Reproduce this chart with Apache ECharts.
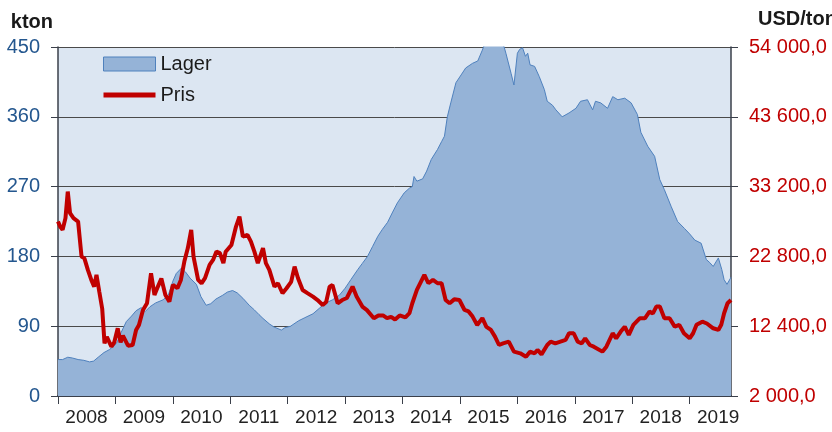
<!DOCTYPE html>
<html>
<head>
<meta charset="utf-8">
<script src="https://cdn.jsdelivr.net/npm/echarts@6/dist/echarts.min.js"></script>
<style>
  html, body { margin: 0; padding: 0; background: #fff; }
  #chart { width: 832px; height: 432px; }
</style>
</head>
<body>
<div id="chart"></div>
<script>
// LME lager (kton) – decimal year / value
const lagerYears = [
  2008.00, 2008.08, 2008.17, 2008.25, 2008.35, 2008.45, 2008.55, 2008.62, 2008.70, 2008.80,
  2008.90, 2009.02, 2009.10, 2009.19, 2009.28, 2009.36, 2009.45, 2009.52, 2009.60, 2009.70,
  2009.83, 2009.92, 2010.00, 2010.06, 2010.15, 2010.22, 2010.30, 2010.41, 2010.49, 2010.58,
  2010.66, 2010.75, 2010.87, 2010.95, 2011.04, 2011.12, 2011.22, 2011.33, 2011.42, 2011.50,
  2011.57, 2011.68, 2011.76, 2011.89, 2011.95, 2012.05, 2012.19, 2012.30, 2012.44, 2012.55,
  2012.64, 2012.78, 2012.90, 2013.00, 2013.10, 2013.22, 2013.30, 2013.39, 2013.48, 2013.57,
  2013.65, 2013.74, 2013.82, 2013.91, 2014.03, 2014.12, 2014.17, 2014.20, 2014.25, 2014.35,
  2014.42, 2014.50, 2014.61, 2014.68, 2014.73, 2014.78, 2014.84, 2014.93, 2015.02, 2015.10,
  2015.22, 2015.31, 2015.39, 2015.45, 2015.55, 2015.65, 2015.75, 2015.80, 2015.89, 2015.94,
  2016.00, 2016.04, 2016.09, 2016.14, 2016.18, 2016.22, 2016.30, 2016.38, 2016.47, 2016.52,
  2016.61, 2016.67, 2016.78, 2016.90, 2017.02, 2017.10, 2017.22, 2017.31, 2017.36, 2017.45,
  2017.57, 2017.66, 2017.75, 2017.87, 2017.98, 2018.09, 2018.15, 2018.27, 2018.39, 2018.48,
  2018.56, 2018.68, 2018.79, 2018.91, 2019.00, 2019.09, 2019.20, 2019.29, 2019.35, 2019.41,
  2019.50, 2019.56, 2019.60, 2019.65, 2019.72
];
const lagerValues = [
  47, 47, 50, 49, 47, 46, 44, 45, 50, 56,
  60, 68, 82, 96, 103, 110, 114, 109, 115, 120,
  124, 130, 148, 158, 165, 160, 152, 144, 128, 117,
  119, 125, 130, 134, 136, 133, 126, 117, 111, 105,
  100, 93, 89, 85, 88, 90, 97, 101, 106, 113,
  119, 124, 130, 139, 150, 163, 171, 180, 193, 206,
  215, 224, 236, 249, 262, 268, 270, 283, 277, 280,
  290, 305, 318, 328, 335, 360, 378, 404, 414, 423,
  429, 432, 446, 458, 468, 466, 455, 442, 416, 401,
  442, 447, 449, 438, 442, 427, 425, 412, 395, 380,
  375, 369, 360, 365, 371, 380, 382, 369, 380, 378,
  371, 386, 382, 384, 378, 363, 340, 322, 309, 279,
  266, 244, 225, 216, 209, 201, 197, 176, 172, 167,
  178, 163, 150, 144, 153
];

// Pris (USD/ton)
const prisYears = [
  2008.00, 2008.04, 2008.08, 2008.13, 2008.17, 2008.21, 2008.27, 2008.35, 2008.41, 2008.46,
  2008.52, 2008.58, 2008.63, 2008.67, 2008.72, 2008.77, 2008.81, 2008.85, 2008.93, 2008.98,
  2009.04, 2009.09, 2009.13, 2009.22, 2009.30, 2009.36, 2009.41, 2009.48, 2009.55, 2009.62,
  2009.68, 2009.74, 2009.80, 2009.87, 2009.94, 2010.00, 2010.08, 2010.14, 2010.20, 2010.26,
  2010.32, 2010.36, 2010.44, 2010.50, 2010.56, 2010.64, 2010.70, 2010.76, 2010.82, 2010.88,
  2010.92, 2011.02, 2011.10, 2011.16, 2011.22, 2011.30, 2011.36, 2011.42, 2011.48, 2011.57,
  2011.62, 2011.68, 2011.77, 2011.83, 2011.91, 2011.98, 2012.06, 2012.12, 2012.18, 2012.26,
  2012.35, 2012.44, 2012.52, 2012.61, 2012.67, 2012.73, 2012.78, 2012.87, 2012.95, 2013.03,
  2013.13, 2013.20, 2013.30, 2013.38, 2013.50, 2013.58, 2013.66, 2013.73, 2013.80, 2013.87,
  2013.95, 2014.05, 2014.12, 2014.17, 2014.25, 2014.38, 2014.45, 2014.53, 2014.61, 2014.68,
  2014.75, 2014.82, 2014.90, 2014.99, 2015.08, 2015.15, 2015.22, 2015.30, 2015.39, 2015.46,
  2015.54, 2015.61, 2015.68, 2015.75, 2015.85, 2015.94, 2016.05, 2016.15, 2016.22, 2016.30,
  2016.35, 2016.42, 2016.52, 2016.58, 2016.66, 2016.75, 2016.84, 2016.90, 2016.98, 2017.05,
  2017.12, 2017.18, 2017.26, 2017.33, 2017.48, 2017.55, 2017.66, 2017.72, 2017.80, 2017.87,
  2017.94, 2018.02, 2018.13, 2018.22, 2018.30, 2018.36, 2018.42, 2018.48, 2018.56, 2018.65,
  2018.74, 2018.82, 2018.90, 2019.00, 2019.06, 2019.12, 2019.22, 2019.30, 2019.41, 2019.50,
  2019.55, 2019.60, 2019.66, 2019.72
];
const prisValues = [
  27990, 27200, 26750, 28500, 32460, 29240, 28500, 27990, 22770, 22500,
  20790, 19300, 18300, 20040, 17500, 15000, 9860, 10800, 9350, 10000,
  12090, 10000, 11000, 9500, 9600, 11840, 12590, 14820, 15820, 20290,
  17060, 18300, 19500, 17060, 16060, 18550, 18060, 19300, 22030, 24000,
  26750, 22780, 19300, 18800, 19550, 21530, 22280, 23520, 23300, 21790,
  23500, 24510, 27240, 28730, 25750, 26000, 25000, 23520, 21790, 24020,
  21790, 20790, 18300, 18800, 17310, 18060, 19000, 21280, 19550, 17800,
  17300, 16810, 16300, 15570, 16000, 18300, 18550, 15820, 16300, 16600,
  18300, 16810, 15320, 14800, 13580, 14000, 14000, 13600, 13800, 13400,
  14000, 13700, 14330, 15820, 17800, 20040, 18800, 19300, 18800, 18800,
  16310, 15820, 16400, 16310, 14820, 14600, 13830, 12590, 13600, 12300,
  11840, 10850, 9600, 9850, 10100, 8610, 8360, 7860, 8610, 8360,
  8860, 8200, 9600, 10100, 9850, 10100, 10350, 11350, 11350, 10100,
  9850, 10600, 9600, 9350, 8610, 9350, 11350, 10600, 11600, 12330,
  11100, 12600, 13580, 13580, 14570, 14300, 15320, 15320, 13580, 13580,
  12330, 12600, 11350, 10600, 11350, 12600, 13080, 12800, 12090, 11850,
  12600, 14330, 15820, 16310
];

const xMin = 2008;
const xMax = 2019.72;
const prisMin = 2000;
const prisMax = 54000;

const font = 'Liberation Sans, Arial, sans-serif';

function fmtPris(v) {
  const s = v.toFixed(1).split('.');
  return s[0].replace(/\B(?=(\d{3})+(?!\d))/g, ' ') + ',' + s[1];
}

const chart = echarts.init(document.getElementById('chart'));

const option = {
  animation: false,
  textStyle: { fontFamily: font },
  grid: {
    left: 58, right: 101, top: 47, bottom: 36,
    outerBoundsMode: 'none',
    show: true, backgroundColor: '#dce6f2', borderWidth: 0
  },
  legend: {
    orient: 'vertical',
    left: 59, top: 48,
    padding: [6, 50, 8, 44],
    backgroundColor: '#dce6f2',
    itemWidth: 52, itemHeight: 14, itemGap: 11,
    symbolKeepAspect: true,
    textStyle: { fontSize: 20, color: '#1a1a1a', lineHeight: 20 },
    data: [
      { name: 'Lager', icon: 'rect', itemStyle: { color: '#95b3d7', borderColor: '#4f81bd', borderWidth: 1 } },
      // thick red bar, no marker
      { name: 'Pris', icon: 'path://M0,0H52V5H0Z', itemStyle: { color: '#c00000', borderWidth: 0 } }
    ]
  },
  xAxis: {
    type: 'value',
    min: xMin, max: xMax, interval: 1,
    axisLine: { show: true, lineStyle: { color: '#3a3f4a', width: 2 } },
    axisTick: { show: true, length: 8, lineStyle: { color: '#3a3f4a' } },
    splitLine: { show: false },
    axisLabel: {
      showMaxLabel: false,
      fontSize: 19, color: '#222', margin: 12,
      align: 'center', padding: [0, 0, 0, 57],
      formatter: v => String(Math.round(v))
    }
  },
  yAxis: [
    {
      type: 'value', min: 0, max: 450, interval: 90,
      name: 'kton', nameLocation: 'end', nameGap: 15,
      nameTextStyle: { fontSize: 20, fontWeight: 'bold', color: '#1a1a1a', align: 'right', padding: [0, 5, 0, 0] },
      axisLine: { show: true, lineStyle: { color: '#3a3f4a', width: 1.5 } },
      axisTick: { show: true, length: 7, lineStyle: { color: '#3a3f4a' } },
      axisLabel: { fontSize: 20, color: '#24578f', margin: 18 },
      splitLine: { lineStyle: { color: '#4a4a4a', width: 1 } }
    },
    {
      // price scale used by the Pris series
      type: 'value', min: prisMin, max: prisMax, position: 'right',
      show: false
    },
    {
      // right-hand labels aligned with the left grid lines
      type: 'value', min: 0, max: 450, interval: 90, position: 'right',
      name: 'USD/ton', nameLocation: 'end', nameGap: 18,
      nameTextStyle: { fontSize: 20, fontWeight: 'bold', color: '#1a1a1a', align: 'left', padding: [0, 0, 0, 27] },
      axisLine: { show: true, lineStyle: { color: '#3a3f4a', width: 1.5 } },
      axisTick: { show: true, length: 7, lineStyle: { color: '#3a3f4a' } },
      splitLine: { show: false },
      axisLabel: {
        fontSize: 20, color: '#c00000', margin: 18,
        formatter: v => fmtPris(prisMin + v / 450 * (prisMax - prisMin))
      }
    }
  ],
  series: [
    {
      name: 'Lager',
      type: 'line',
      yAxisIndex: 0,
      symbol: 'none',
      itemStyle: { color: '#95b3d7' },
      lineStyle: { color: '#4f81bd', width: 1 },
      areaStyle: { color: '#95b3d7', opacity: 1 },
      data: lagerYears.map((x, i) => [x, lagerValues[i]]),
      z: 1
    },
    {
      name: 'Pris',
      type: 'line',
      yAxisIndex: 1,
      symbol: 'none',
      itemStyle: { color: '#c00000' },
      lineStyle: { color: '#c00000', width: 4 },
      data: prisYears.map((x, i) => [x, prisValues[i]]),
      z: 3
    }
  ]
};

chart.setOption(option);
</script>
</body>
</html>
